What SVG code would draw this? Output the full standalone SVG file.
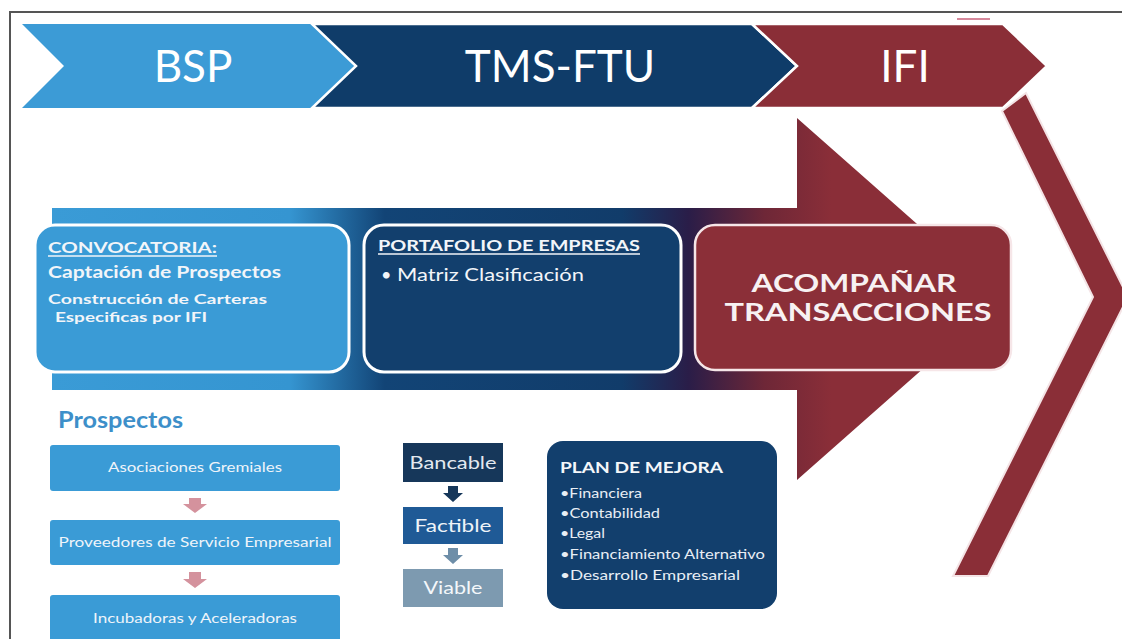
<svg xmlns="http://www.w3.org/2000/svg" width="1122" height="639" viewBox="0 0 1122 639">
<defs>
<linearGradient id="flow" gradientUnits="userSpaceOnUse" x1="52" y1="0" x2="1002" y2="0">
<stop offset="0" stop-color="#3a9bd6"/>
<stop offset="0.25" stop-color="#3595d1"/>
<stop offset="0.35" stop-color="#124476"/>
<stop offset="0.6" stop-color="#113c6a"/>
<stop offset="0.67" stop-color="#2a1d48"/>
<stop offset="0.75" stop-color="#6e2737"/>
<stop offset="0.82" stop-color="#8a2e38"/>
<stop offset="1" stop-color="#8a2e38"/>
</linearGradient>
<style>
text{font-family:Lato,"Open Sans","Liberation Sans",sans-serif}
.hdr{font-size:44px;fill:#ffffff;text-anchor:middle}
.wt{fill:#f2f5f9}
.b{font-weight:bold}
.pbox{fill:#3a9bd6}
.pt{font-size:14px;fill:#eef4fa;text-anchor:middle}
.plan{font-size:13.5px;fill:#e8eef5}
</style>
</defs>
<rect width="1122" height="639" fill="#ffffff"/>
<path d="M10 639 V12 H1122" fill="none" stroke="#555" stroke-width="2"/>
<line x1="957" y1="19" x2="990" y2="19" stroke="#c8607a" stroke-width="1.5"/>

<g id="header-bsp">
<polygon points="22,24 312,24 356,66 312,108 22,108 64,66" fill="#3c9bd6"/>
<text class="hdr" x="193" y="82">BSP</text>
</g>
<g id="header-tms">
<polygon points="312,24 752,24 797,66 752,108 312,108 356,66" fill="#0f3c69" stroke="#fff" stroke-width="2.5"/>
<text class="hdr" x="560" y="82">TMS-FTU</text>
</g>
<g id="header-ifi">
<polygon points="752,24 1003,24 1047,66 1003,108 752,108 797,66" fill="#8a2e37" stroke="#fff" stroke-width="2.5"/>
<text class="hdr" x="905" y="82">IFI</text>
</g>

<g id="big-chevron">
<polygon points="1002,111 1026,93 1128,297 988,576 953,576 1093,297" fill="#8a2e37" stroke="#f4e4e6" stroke-width="2"/>
</g>

<g id="flow-arrow">
<polygon points="52,208 797,208 797,118 1002,299 797,480 797,390 52,390" fill="url(#flow)"/>
</g>

<g id="convocatoria">
<rect x="35" y="225" width="314" height="147" rx="20" fill="#3a9bd6" stroke="#ffffff" stroke-width="3"/>
<text class="wt b" x="48" y="253" font-size="15" textLength="169" lengthAdjust="spacingAndGlyphs">CONVOCATORIA:</text>
<line x1="48" y1="256" x2="217" y2="256" stroke="#f2f5f9" stroke-width="1.3"/>
<text class="wt b" x="48" y="278" font-size="17.5" textLength="233" lengthAdjust="spacingAndGlyphs">Captación de Prospectos</text>
<text class="wt b" x="48" y="304" font-size="14" textLength="219" lengthAdjust="spacingAndGlyphs">Construcción de Carteras</text>
<text class="wt b" x="55" y="322" font-size="14" textLength="152" lengthAdjust="spacingAndGlyphs">Especificas por IFI</text>
</g>

<g id="portafolio">
<rect x="364" y="225" width="317" height="147" rx="20" fill="#123f6d" stroke="#ffffff" stroke-width="3"/>
<text class="wt b" x="378" y="251" font-size="14.5" textLength="262" lengthAdjust="spacingAndGlyphs">PORTAFOLIO DE EMPRESAS</text>
<line x1="378" y1="254" x2="640" y2="254" stroke="#f2f5f9" stroke-width="1.3"/>
<text class="wt" x="381" y="281" font-size="18">•</text>
<text class="wt" x="397" y="281" font-size="18" textLength="187" lengthAdjust="spacingAndGlyphs">Matriz Clasificación</text>
</g>

<g id="acompanar">
<rect x="695" y="225" width="316" height="145" rx="20" fill="#8b2f38" stroke="#f6e6e8" stroke-width="2.5"/>
<text class="b" x="854" y="292" font-size="25" fill="#f7f1f2" text-anchor="middle" textLength="205" lengthAdjust="spacingAndGlyphs">ACOMPAÑAR</text>
<text class="b" x="858" y="321" font-size="25" fill="#f7f1f2" text-anchor="middle" textLength="267" lengthAdjust="spacingAndGlyphs">TRANSACCIONES</text>
</g>

<g id="prospectos-title">
<text x="58" y="428" font-size="22" font-weight="bold" fill="#3d8fc9" textLength="125" lengthAdjust="spacingAndGlyphs">Prospectos</text>
</g>
<g id="asociaciones">
<rect class="pbox" x="50" y="445" width="290" height="46" rx="3"/>
<text class="pt" x="195" y="472" textLength="174" lengthAdjust="spacingAndGlyphs">Asociaciones Gremiales</text>
</g>
<g id="proveedores">
<rect class="pbox" x="50" y="520" width="290" height="45" rx="3"/>
<text class="pt" x="195" y="547" textLength="273" lengthAdjust="spacingAndGlyphs">Proveedores de Servicio Empresarial</text>
</g>
<g id="incubadoras">
<rect class="pbox" x="50" y="595" width="290" height="50" rx="3"/>
<text class="pt" x="195" y="623" textLength="204" lengthAdjust="spacingAndGlyphs">Incubadoras y Aceleradoras</text>
</g>

<g id="bancable">
<rect x="403" y="443" width="100" height="39" fill="#16375a"/>
<text x="453" y="469" font-size="18" fill="#e3e9f0" text-anchor="middle" textLength="87" lengthAdjust="spacingAndGlyphs">Bancable</text>
</g>
<g id="factible">
<rect x="403" y="507" width="100" height="37" fill="#1f5a96"/>
<text x="453" y="532" font-size="18" fill="#eef3f8" text-anchor="middle" textLength="77" lengthAdjust="spacingAndGlyphs">Factible</text>
</g>
<g id="viable">
<rect x="403" y="569" width="100" height="38" fill="#7d9ab0"/>
<text x="453" y="594" font-size="18" fill="#f4f7fa" text-anchor="middle" textLength="59" lengthAdjust="spacingAndGlyphs">Viable</text>
</g>

<g id="plan-de-mejora">
<rect x="547" y="441" width="230" height="168" rx="16" fill="#123f6d"/>
<text class="b" x="560" y="473" font-size="16" fill="#f4f7fa" textLength="163" lengthAdjust="spacingAndGlyphs">PLAN DE MEJORA</text>
<text class="plan" x="560" y="498" textLength="82" lengthAdjust="spacingAndGlyphs">•Financiera</text>
<text class="plan" x="560" y="518" textLength="100" lengthAdjust="spacingAndGlyphs">•Contabilidad</text>
<text class="plan" x="560" y="538" textLength="45" lengthAdjust="spacingAndGlyphs">•Legal</text>
<text class="plan" x="560" y="559" textLength="205" lengthAdjust="spacingAndGlyphs">•Financiamiento Alternativo</text>
<text class="plan" x="560" y="580" textLength="180" lengthAdjust="spacingAndGlyphs">•Desarrollo Empresarial</text>
</g>

<g id="connectors">
<polygon points="189,498 201,498 201,504 207,504 195,513 183,504 189,504" fill="#d4929d"/>
<polygon points="189,572 201,572 201,579 207,579 195,588 183,579 189,579" fill="#d4929d"/>
<polygon points="448,486 458,486 458,493 463,493 453,502 443,493 448,493" fill="#16375a"/>
<polygon points="448,548 458,548 458,555 463,555 453,564 443,555 448,555" fill="#6e8ea8"/>
</g>
</svg>
